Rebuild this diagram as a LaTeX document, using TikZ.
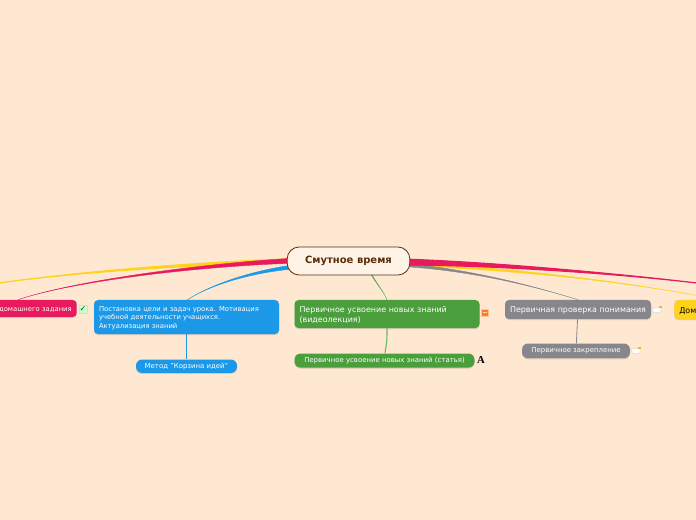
\documentclass[tikz,border=0pt]{standalone}
\usepackage{fontspec}
\setmainfont{DejaVu Sans}
\newfontfamily\iconfont{Liberation Serif}
\usepackage{xcolor}
\usetikzlibrary{positioning, backgrounds, calc, shadows}
\definecolor{paper}{HTML}{FEE8D1}
\definecolor{rootfill}{HTML}{FEF3E6}
\definecolor{rootline}{HTML}{5C2D0B}
\definecolor{cblue}{HTML}{1B98E8}
\definecolor{cgreen}{HTML}{4A9F3C}
\definecolor{cgrey}{HTML}{87878B}
\definecolor{cyellow}{HTML}{FFD21C}
\definecolor{cpink}{HTML}{E8195C}
% tapered branch: colour and width, start, control, control, end, half width
\newcommand{\branch}[6]{
  \path[#1] ($(#2)+(0,-#6)$) .. controls ($(#3)+(0,-#6*0.5)$) and (#4) .. (#5)
    .. controls (#4) and ($(#3)+(0,#6*0.5)$) .. ($(#2)+(0,#6)$) -- cycle;
}
\newcommand{\dn}{\rule{0pt}{1.05em}}
\begin{document}
\begin{tikzpicture}[
  x=0.75pt, y=-0.75pt,
  topic/.style={rectangle, rounded corners=3pt, text=white, inner xsep=3.75pt, inner ysep=0pt, align=left,
    drop shadow={shadow xshift=0pt, shadow yshift=-0.8pt, opacity=0.3}},
  leaf/.style={rectangle, rounded corners=4.5pt, text=white, inner sep=0pt, align=center,
    font=\fontsize{5.2pt}{6.5pt}\selectfont,
    drop shadow={shadow xshift=0pt, shadow yshift=-0.8pt, opacity=0.3}},
  noteicon/.style={rectangle, fill=white, draw=gray!45, line width=0.2pt, minimum width=6pt, minimum height=3.4pt, inner sep=0pt, rotate=8},
  twig/.style={draw=#1, fill=#1, line width=0.3pt},
  limb/.style={draw=#1, fill=#1, line width=0.9pt}
]
  \begin{scope}[on background layer]
    \fill[paper] (0,0) rectangle (696,520);
  \end{scope}
  \useasboundingbox (0,0) rectangle (696,520);

  \node[rectangle, rounded corners=9pt, draw=rootline, line width=0.6pt, fill=rootfill, text=rootline, minimum width=92pt, minimum height=21pt, inner sep=0pt, font=\fontsize{7.5pt}{9pt}\selectfont\bfseries] (root) at (348.5,261) {\raisebox{-1.2pt}{Смутное время}};

  \node[topic, fill=cpink, minimum height=12.75pt, text width=120pt, align=right, anchor=east, font=\fontsize{5.1pt}{6.5pt}\selectfont] (homecheck) at (77,308.5) {\dn домашнего задания};
  \node[topic, fill=cblue, text width=131.25pt, minimum height=25.5pt, font=\fontsize{5.1pt}{6.4pt}\selectfont] (goals) at (186.5,317) {\dn Постановка цели и задач урока. Мотивация\\учебной деятельности учащихся.\\Актуализация знаний};
  \node[topic, fill=cgreen, text width=131.25pt, minimum height=21pt, font=\fontsize{5.95pt}{7.5pt}\selectfont] (lecture) at (387,314) {\dn Первичное усвоение новых знаний\\(видеолекция)};
  \node[topic, fill=cgrey, minimum width=109.5pt, minimum height=14.25pt, font=\fontsize{5.95pt}{7.5pt}\selectfont] (check) at (578,309.5) {\dn Первичная проверка понимания};
  \node[topic, fill=cyellow, text=black, text width=60pt, minimum height=14.25pt, anchor=west, font=\fontsize{5.95pt}{7.5pt}\selectfont] (homework) at (674,309.5) {\dn Дом};

  \node[leaf, fill=cblue, minimum width=75.75pt, minimum height=10pt, below=18.75pt of goals] (basket) {Метод "Корзина идей"};
  \node[leaf, fill=cgreen, minimum width=135pt, minimum height=10.5pt, below=18.75pt of lecture.south west, anchor=north west] (article) {Первичное усвоение новых знаний (статья)};
  \node[leaf, fill=cgrey, minimum width=81pt, minimum height=11pt, below=18pt of check, xshift=-1.5pt] (fixing) {Первичное закрепление};

  % icons
  \node[rectangle, fill=green!20!white, draw=green!35!white, line width=0.2pt, text=green!40!black, minimum size=5.6pt, inner sep=0pt, font=\fontsize{6pt}{6pt}\selectfont] (checkicon) at (83,309) {\symbol{"2713}};
  \node[rectangle, fill=orange!70!red!80!white, draw=orange!45!white, line width=0.3pt, minimum size=5.5pt, inner sep=0pt] (docicon) at (485,313) {};
  \fill[white!70!orange] ($(docicon)+(-1.5pt,-0.2pt)$) rectangle ($(docicon)+(1.5pt,1pt)$);
  \node[font=\iconfont\fontsize{8pt}{8pt}\selectfont\bfseries, text=black, inner sep=0pt] (articleicon) at (481,360) {A};
  \node[noteicon] (noteone) at (657,310) {};
  \node[noteicon] (notetwo) at (636,351) {};
  \fill[cyellow!70!brown] ($(noteone)+(1.2pt,1.5pt)$) rectangle ($(noteone)+(3.4pt,2.8pt)$);
  \fill[cyellow!70!brown] ($(notetwo)+(1.2pt,1.5pt)$) rectangle ($(notetwo)+(3.4pt,2.8pt)$);

  \coordinate (leftedge) at (-1,283);
  \coordinate (rightedge) at (697,283);

  \begin{scope}[on background layer]
    \branch{limb=cyellow}{root.west}{180,264}{70,273}{leftedge}{1.5pt}
    \branch{twig=cpink}{root.west}{190,266}{70,282}{$(homecheck.north east)+(-59,0)$}{1.8pt}
    \coordinate (goalstop) at (187,300);
    \branch{twig=cblue}{$(root.west)+(6,6)$}{250,272}{210,285}{goalstop}{1.5pt}
    \branch{twig=cyellow}{$(root.east)+(-6,3)$}{500,268}{620,280}{homework.north}{1.5pt}
    \branch{twig=cgrey}{$(root.east)+(-6,4)$}{470,270}{530,285}{check.north}{1.2pt}
    \branch{limb=cpink}{$(root.east)+(-6,1)$}{500,264}{620,274}{rightedge}{2.2pt}
    \branch{twig=cgreen!85!white}{370,272}{376,283}{384,292}{lecture.north}{0.7pt}
    \draw[cgreen!80!white, line width=0.8pt] (lecture.south) .. controls (387,340) .. (article.north -| 385,0);
    \draw[cblue, line width=0.6pt] (goals) -- (basket);
    \draw[cgrey, line width=0.6pt] (check) -- (fixing);
  \end{scope}
\end{tikzpicture}
\end{document}
